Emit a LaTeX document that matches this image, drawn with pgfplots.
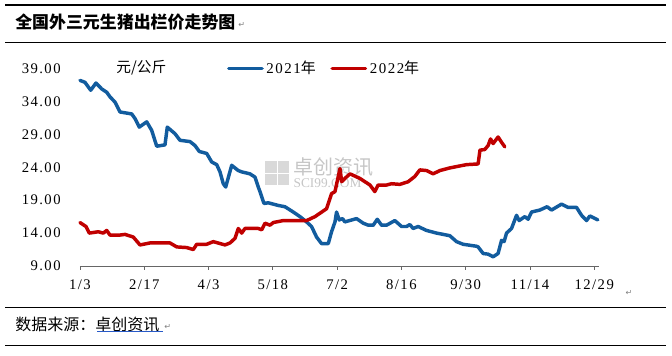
\documentclass[border=0pt]{standalone}
\usepackage{pgfplots}
\pgfplotsset{compat=1.18}
\usepackage{fontspec}
\setmainfont{Liberation Serif}
\newfontfamily\numfont[LetterSpace=10]{Liberation Serif}
\newfontfamily\cjk{Noto Sans CJK SC}
\newfontfamily\sym{DejaVu Sans}
\definecolor{blue21}{RGB}{18,92,158}
\definecolor{red22}{RGB}{192,0,0}
\definecolor{linkblue}{RGB}{40,90,200}
\begin{document}
\begin{tikzpicture}
\path (0,0) rectangle (504pt,267pt);
% rules
\draw[line width=1pt] (3.75pt,263.25pt) -- (499.5pt,263.25pt);
\draw[line width=1pt] (3.75pt,235pt) -- (499.5pt,235pt);
\draw[line width=1pt] (3.75pt,36.5pt) -- (499.5pt,36.5pt);
\draw[line width=1pt] (3.75pt,7.7pt) -- (499.5pt,7.7pt);
% title
\node[anchor=west,inner sep=0pt] at (11.25pt,250.1pt) {\cjk\bfseries\fontsize{12.7pt}{14pt}\selectfont 全国外三元生猪出栏价走势图};
\node[anchor=west,inner sep=0pt,text=gray] at (178.5pt,248pt) {\sym\fontsize{6pt}{7pt}\selectfont ↵};
% source
\node[anchor=west,inner sep=0pt] at (11.25pt,23.25pt) {\cjk\fontsize{12pt}{14pt}\selectfont 数据来源：卓创资讯};
\draw[linkblue,line width=0.8pt] (73pt,18.5pt) -- (122.5pt,18.5pt);
\node[anchor=west,inner sep=0pt,text=gray] at (123pt,22pt) {\sym\fontsize{6pt}{7pt}\selectfont ↵};
\node[anchor=west,inner sep=0pt,text=gray] at (469pt,47.5pt) {\sym\fontsize{6pt}{7pt}\selectfont ↵};
% watermark
\fill[gray!30] (199pt,128pt) rectangle (217pt,146pt);
\draw[white,line width=1.2pt] (208pt,128pt) -- (208pt,146pt) (199pt,137pt) -- (217pt,137pt);
\node[anchor=west,inner sep=0pt,text=gray!45] at (220pt,142pt) {\cjk\fontsize{15pt}{17pt}\selectfont 卓创资讯};
\node[anchor=west,inner sep=0pt,text=gray!45] at (220pt,129.5pt) {\fontsize{10pt}{12pt}\selectfont SCI99.COM};
% unit label
\node[inner sep=0pt] at (106pt,216pt) {\cjk\fontsize{11pt}{13pt}\selectfont 元/公斤};
\begin{axis}[
  at={(60pt,67.5pt)}, anchor=south west,
  scale only axis, width=388.9pt, height=148.1pt,
  xmin=3, xmax=366, ymin=9, ymax=39,
  axis x line*=bottom, axis y line*=left,
  y axis line style={draw=none},
  x axis line style={gray!80!black, line width=0.6pt},
  xtick={3,48,93,138,183,228,273,318,363},
  xticklabels={1/3,2/17,4/3,5/18,7/2,8/16,9/30,11/14,12/29},
  ytick={9,14,19,24,29,34,39},
  ytick style={draw=none},
  xtick style={gray!80!black, line width=0.6pt},
  tick align=outside, major tick length=3pt,
  every tick label/.append style={font=\numfont\fontsize{11pt}{13pt}\selectfont},
  yticklabel style={xshift=-8pt},
  xticklabel style={yshift=-4pt},
  /pgf/number format/.cd, fixed, fixed zerofill, precision=2, assume math mode=true,
  /pgfplots/.cd,
  clip=false,
  legend columns=2,
  legend style={at={(0.283,1.0)}, anchor=west, draw=none, fill=none,
    font=\numfont\fontsize{11.2pt}{13pt}\selectfont, inner sep=0pt,
    /tikz/every even column/.append style={column sep=9pt}},
  legend image code/.code={\draw[#1] (0pt,0pt) -- (25pt,0pt);},
  every axis plot/.append style={line width=2.6pt, line join=round, line cap=round},
]
\addplot[blue21] coordinates {
(3,37.2) (6.5,36.9) (10.5,35.7) (14.2,36.8) (18.2,35.9) (21.7,35.4) (24,34.7) (27.5,33.9) (31,32.4) (39.2,32.1) (41.5,31.4) (44.5,30.1) (49.7,30.9) (53.2,29.6) (56.7,27.2) (62.5,27.4) (64.1,30.1) (69.5,29.1) (73,28.1) (80,27.9) (83.5,27.3) (86.5,26.4) (91.7,26.1) (95.2,24.8) (98.7,24.4) (101,23.3) (103.3,21.5) (105,21.0) (109.2,24.3) (113.8,23.5) (116.2,23.3) (122,23.0) (125.5,22.5) (127.8,21.0) (129,20.3) (131.8,18.5) (134.8,18.6) (141.8,18.2) (146.5,18.0) (152.3,17.2) (157,16.5) (161.6,15.7) (165.1,15.0) (168.6,13.4) (172.1,12.4) (176.8,12.4) (179.1,14.2) (181.5,15.7) (182.6,17.2) (184.5,16.0) (186.8,16.2) (188.4,15.7) (196.6,16.2) (201.3,15.5) (204.8,15.2) (208.3,15.2) (211.1,16.1) (214.1,15.2) (217.6,15.2) (223.4,15.9) (228.1,15.0) (231.6,15.0) (233.9,15.3) (236.2,14.7) (239.7,15.0) (245.6,14.4) (252.6,14.0) (261.9,13.6) (266.6,12.7) (271.2,12.3) (280.6,12.0) (281.7,11.9) (285.2,10.9) (288.7,10.8) (292.2,10.4) (295.7,10.9) (298.1,12.9) (299.9,12.7) (301.6,14.0) (305.1,14.7) (308.6,16.7) (310.4,15.9) (314.4,16.5) (316.7,16.1) (319.1,17.2) (324.9,17.5) (330.0,18.0) (333.1,17.5) (340.1,18.4) (344.7,17.9) (350.6,17.9) (354.1,16.7) (357.6,15.9) (359.9,16.6) (365.5,16.0)
};
\addlegendentry{2021{\cjk 年}}
\addplot[red22] coordinates {
(3,15.6) (7.2,15.0) (9.5,14.0) (15.8,14.2) (19.3,14.0) (21.7,14.4) (24,13.7) (31,13.7) (34.5,13.8) (40.3,13.4) (45,12.2) (52,12.5) (66,12.5) (70.7,11.9) (77.7,11.8) (82.3,11.5) (84.7,12.3) (91.7,12.3) (96.3,12.7) (104.5,12.2) (108,12.5) (111.5,13.2) (113.8,14.7) (116.2,14.0) (118.5,14.7) (127.8,14.7) (130.2,14.5) (132.5,15.5) (136,15.2) (138.3,15.6) (145.3,15.9) (161.6,15.9) (167.5,16.5) (175.6,17.7) (179.1,20.0) (181.5,20.3) (185,23.8) (186.2,21.8) (188.4,22.3) (192,23.0) (199,22.3) (206,21.3) (209.4,20.3) (211.7,21.3) (217.6,21.3) (221.1,21.5) (226.9,21.4) (232.7,21.8) (237.4,22.6) (240.9,23.6) (245.6,23.5) (250.2,23.0) (254.9,23.5) (261.9,23.9) (273.6,24.4) (281.7,24.5) (283,26.6) (286.4,26.7) (288.7,27.3) (290.4,28.3) (292.2,27.6) (295.7,28.6) (298.1,27.8) (300.4,27.1)
};
\addlegendentry{2022{\cjk 年}}
\end{axis}
\end{tikzpicture}
\end{document}
